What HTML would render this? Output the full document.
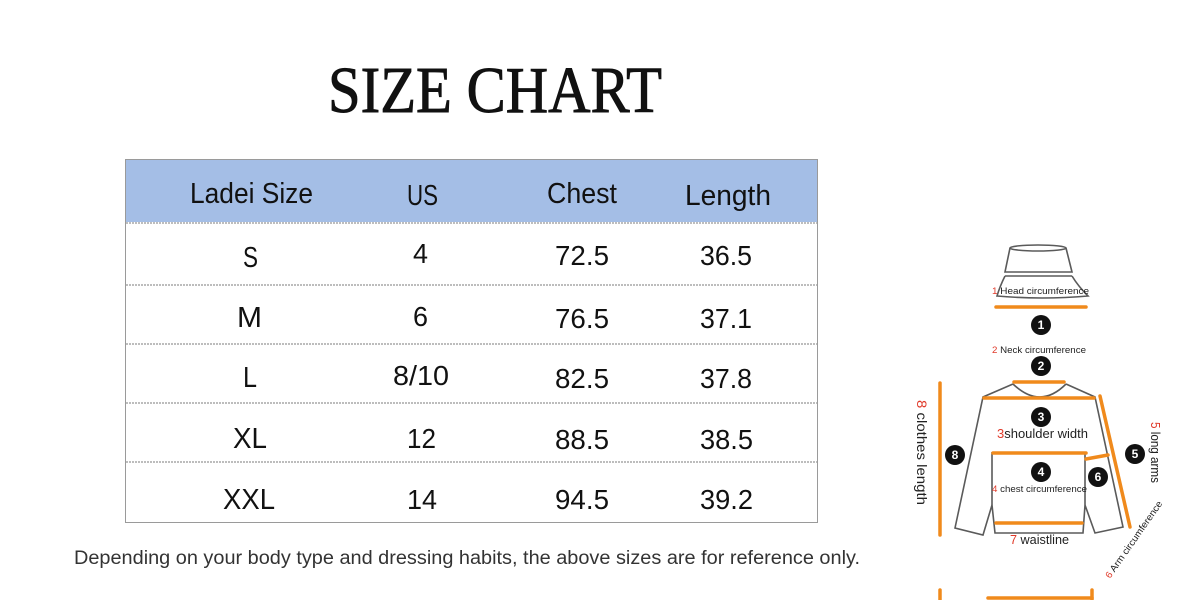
<!DOCTYPE html>
<html><head><meta charset="utf-8">
<style>
html,body{margin:0;padding:0;background:#fff;}
svg{display:block;}
</style></head>
<body>
<svg width="1200" height="600" viewBox="0 0 1200 600" xmlns="http://www.w3.org/2000/svg">
<rect width="1200" height="600" fill="#fff"/>
<!-- Title -->
<text x="328" y="112" font-family="Liberation Serif, serif" font-size="66" fill="#111" stroke="#111" stroke-width="0.9" textLength="334" lengthAdjust="spacingAndGlyphs">SIZE CHART</text>

<!-- Table -->
<rect x="125.5" y="159.5" width="692" height="363" fill="#fff" stroke="#9a9a9a" stroke-width="1"/>
<rect x="126" y="160" width="691" height="62" fill="#a4bee6"/>
<g stroke="#bdbdbd" stroke-width="2" stroke-dasharray="2 1">
<line x1="126" y1="223" x2="817" y2="223"/>
<line x1="126" y1="285" x2="817" y2="285"/>
<line x1="126" y1="344" x2="817" y2="344"/>
<line x1="126" y1="403" x2="817" y2="403"/>
<line x1="126" y1="462" x2="817" y2="462"/>
</g>
<g font-family="Liberation Sans, sans-serif" fill="#111" lengthAdjust="spacingAndGlyphs">
<text x="190" y="203" font-size="29" textLength="123" lengthAdjust="spacingAndGlyphs">Ladei Size</text>
<text x="407" y="205" font-size="29" textLength="31" lengthAdjust="spacingAndGlyphs">US</text>
<text x="547" y="203" font-size="29" textLength="70" lengthAdjust="spacingAndGlyphs">Chest</text>
<text x="685" y="205" font-size="29" textLength="86" lengthAdjust="spacingAndGlyphs">Length</text>

<text x="243" y="267" font-size="29" textLength="15" lengthAdjust="spacingAndGlyphs">S</text>
<text x="413" y="263" font-size="28" textLength="15" lengthAdjust="spacingAndGlyphs">4</text>
<text x="555" y="265" font-size="28" textLength="54" lengthAdjust="spacingAndGlyphs">72.5</text>
<text x="700" y="265" font-size="28" textLength="52" lengthAdjust="spacingAndGlyphs">36.5</text>

<text x="237" y="327" font-size="29" textLength="25" lengthAdjust="spacingAndGlyphs">M</text>
<text x="413" y="326" font-size="28" textLength="15" lengthAdjust="spacingAndGlyphs">6</text>
<text x="555" y="328" font-size="28" textLength="54" lengthAdjust="spacingAndGlyphs">76.5</text>
<text x="700" y="328" font-size="28" textLength="52" lengthAdjust="spacingAndGlyphs">37.1</text>

<text x="243" y="387" font-size="29" textLength="14" lengthAdjust="spacingAndGlyphs">L</text>
<text x="393" y="385" font-size="28" textLength="56" lengthAdjust="spacingAndGlyphs">8/10</text>
<text x="555" y="388" font-size="28" textLength="54" lengthAdjust="spacingAndGlyphs">82.5</text>
<text x="700" y="388" font-size="28" textLength="52" lengthAdjust="spacingAndGlyphs">37.8</text>

<text x="233" y="448" font-size="29" textLength="34" lengthAdjust="spacingAndGlyphs">XL</text>
<text x="407" y="448" font-size="28" textLength="29" lengthAdjust="spacingAndGlyphs">12</text>
<text x="555" y="449" font-size="28" textLength="54" lengthAdjust="spacingAndGlyphs">88.5</text>
<text x="700" y="449" font-size="28" textLength="53" lengthAdjust="spacingAndGlyphs">38.5</text>

<text x="223" y="509" font-size="29" textLength="52" lengthAdjust="spacingAndGlyphs">XXL</text>
<text x="407" y="509" font-size="28" textLength="30" lengthAdjust="spacingAndGlyphs">14</text>
<text x="555" y="509" font-size="28" textLength="54" lengthAdjust="spacingAndGlyphs">94.5</text>
<text x="700" y="509" font-size="28" textLength="53" lengthAdjust="spacingAndGlyphs">39.2</text>
</g>

<!-- Footnote -->
<text x="74" y="564" font-family="Liberation Sans, sans-serif" font-size="19" fill="#333" textLength="786" lengthAdjust="spacingAndGlyphs">Depending on your body type and dressing habits, the above sizes are for reference only.</text>

<!-- Illustration -->
<g fill="none" stroke="#5a5a5a" stroke-width="1.6">
<ellipse cx="1038" cy="248" rx="28" ry="3"/>
<path d="M1010 248 L1005 272 L1072 272 L1066 248"/>
<path d="M1005 276 L1072 276"/>
<path d="M1005 276 Q1000 286 997 296 Q1042 300 1088 296 Q1078 286 1072 276"/>
<path d="M1013 384 Q1040 410 1066 384"/>
<path d="M1013 384 L983 397 L955 528 L983 535 L992 505 L995 533 L1083 533 L1085 505 L1095 533 L1123 527 L1095 397 L1066 384"/>
<path d="M992 505 L992 452"/>
<path d="M1085 505 L1085 452"/>
</g>
<g stroke="#f08a1c" stroke-width="3.5" stroke-linecap="round" fill="none">
<line x1="996" y1="307" x2="1086" y2="307"/>
<line x1="1014" y1="382" x2="1064" y2="382"/>
<line x1="984" y1="398" x2="1094" y2="398"/>
<line x1="993" y1="453" x2="1086" y2="453"/>
<line x1="1086" y1="459" x2="1108" y2="455"/>
<line x1="996" y1="523" x2="1082" y2="523"/>
<line x1="940" y1="383" x2="940" y2="535"/>
<line x1="1100" y1="396" x2="1130" y2="527"/>
<line x1="940" y1="590" x2="940" y2="600"/>
<line x1="988" y1="598" x2="1092" y2="598"/>
<line x1="1092" y1="590" x2="1092" y2="600"/>
</g>
<g fill="#111">
<circle cx="1041" cy="325" r="10"/>
<circle cx="1041" cy="366" r="10"/>
<circle cx="1041" cy="417" r="10"/>
<circle cx="1041" cy="472" r="10"/>
<circle cx="1098" cy="477" r="10"/>
<circle cx="955" cy="455" r="10"/>
<circle cx="1135" cy="454" r="10"/>
</g>
<g font-family="Liberation Sans, sans-serif" font-size="12" font-weight="bold" fill="#fff" text-anchor="middle">
<text x="1041" y="329">1</text>
<text x="1041" y="370">2</text>
<text x="1041" y="421">3</text>
<text x="1041" y="476">4</text>
<text x="1098" y="481">6</text>
<text x="955" y="459">8</text>
<text x="1135" y="458">5</text>
</g>
<g font-family="Liberation Sans, sans-serif" fill="#222">
<text x="992" y="294" font-size="9.5" textLength="97" lengthAdjust="spacingAndGlyphs"><tspan fill="#e03a2a">1 </tspan>Head circumference</text>
<text x="992" y="353" font-size="9.5" textLength="94" lengthAdjust="spacingAndGlyphs"><tspan fill="#e03a2a">2 </tspan>Neck circumference</text>
<text x="997" y="438" font-size="12.5" textLength="91" lengthAdjust="spacingAndGlyphs"><tspan fill="#e03a2a">3</tspan>shoulder width</text>
<text x="992" y="492" font-size="9.5" textLength="95" lengthAdjust="spacingAndGlyphs"><tspan fill="#e03a2a">4 </tspan>chest circumference</text>
<text x="1010" y="544" font-size="12.5" textLength="59" lengthAdjust="spacingAndGlyphs"><tspan fill="#e03a2a">7 </tspan>waistline</text>
<text transform="translate(917 400) rotate(90)" font-size="14" textLength="105" lengthAdjust="spacingAndGlyphs"><tspan fill="#e03a2a">8 </tspan>clothes length</text>
<text transform="translate(1151 422) rotate(90)" font-size="12.5" textLength="61" lengthAdjust="spacingAndGlyphs"><tspan fill="#e03a2a">5 </tspan>long arms</text>
<text transform="translate(1110 579) rotate(-55)" font-size="9.5" textLength="92" lengthAdjust="spacingAndGlyphs"><tspan fill="#e03a2a">6 </tspan>Arm circumference</text>
</g>
</svg>
</body></html>
